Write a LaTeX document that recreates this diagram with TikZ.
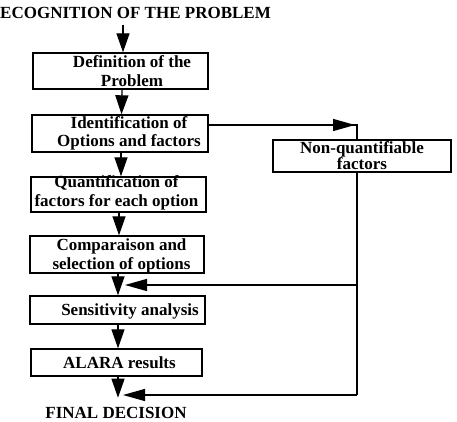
\documentclass[tikz,border=0pt]{standalone}
\usepackage{fontspec}
\setmainfont{Liberation Serif}
\usetikzlibrary{arrows.meta}
\begin{document}
\begin{tikzpicture}[x=1pt,y=1pt,
  box/.style={draw, line width=1.4pt, inner sep=0pt},
  txt/.style={font=\fontsize{17}{18.5}\selectfont\bfseries, align=center, inner sep=0pt},
  arr/.style={line width=1.3pt, -{Triangle[length=19pt,width=13pt]}},
  harr/.style={line width=1.3pt, -{Triangle[length=22pt,width=12pt]}},
  ln/.style={line width=1.3pt}]
\useasboundingbox (0,0) rectangle (457,-422);
% title
\node[txt, anchor=west] (title) at (0,-13) {ECOGNITION OF THE PROBLEM};
% boxes
\node[box, minimum width=175pt, minimum height=36pt] (b1) at (120.5,-71) {};
\node[box, minimum width=176pt, minimum height=37pt] (b2) at (120,-133.5) {};
\node[box, minimum width=175pt, minimum height=35pt] (b3) at (118.5,-194.5) {};
\node[box, minimum width=174pt, minimum height=37pt] (b4) at (117,-254.5) {};
\node[box, minimum width=175pt, minimum height=28pt] (b5) at (117.5,-310) {};
\node[box, minimum width=171pt, minimum height=27pt] (b6) at (116.5,-362.5) {};
\node[box, minimum width=178pt, minimum height=32pt] (nq) at (362,-156) {};
% texts
\node[txt] (t1) at (132,-71) {Definition of the\\Problem};
\node[txt] (t2) at (129,-133.5) {Identification of\\Options and factors};
\node[txt] (t3) at (116.5,-193) {Quantification of\\factors for each option};
\node[txt] (t4) at (121.5,-256) {Comparaison and\\selection of options};
\node[txt] (t5) at (130,-311.5) {Sensitivity analysis};
\node[txt] (t6) at (119.5,-363) {ALARA results};
\node[txt, font=\fontsize{17}{16}\selectfont\bfseries] (t7) at (362,-156) {Non-quantifiable\\factors};
\node[txt] (final) at (116,-413) {FINAL DECISION};
% main chain
\draw[arr, shorten <=6pt] ([xshift=2.5pt]b1.north |- title.south) -- ([xshift=2.5pt]b1.north);
\draw[arr] ([xshift=1.5pt]b1.south) -- ([xshift=1.5pt]b2.north);
\draw[arr] ([xshift=1pt]b2.south) -- ([xshift=2.5pt]b3.north);
\draw[arr] ([xshift=0.5pt]b3.south) -- ([xshift=2pt]b4.north);
\draw[arr] ([xshift=1pt]b4.south) -- ([xshift=0.5pt]b5.north);
\draw[arr] ([xshift=0.5pt]b5.south) -- ([xshift=1.5pt]b6.north);
\draw[arr, shorten >=9.4pt] ([xshift=1.5pt]b6.south) -- ([xshift=2pt]final.north);
% side branch
\coordinate (c1) at (357,-125);
\coordinate (c2) at (357,-285);
\coordinate (c3) at (357,-395);
\coordinate (tip1) at (125,-285);
\coordinate (tip2) at (123,-395);
\draw[harr] (b2.east |- c1) -- ([xshift=-2pt]c1);
\draw[ln] ([xshift=-0.65pt]b2.east |- c1) -- (c1) -- (c1 |- nq.north);
\draw[ln] (c1 |- nq.south) -- (c3);
\draw[harr] (c2) -- (tip1);
\draw[harr] (c3) -- (tip2);
\end{tikzpicture}
\end{document}
